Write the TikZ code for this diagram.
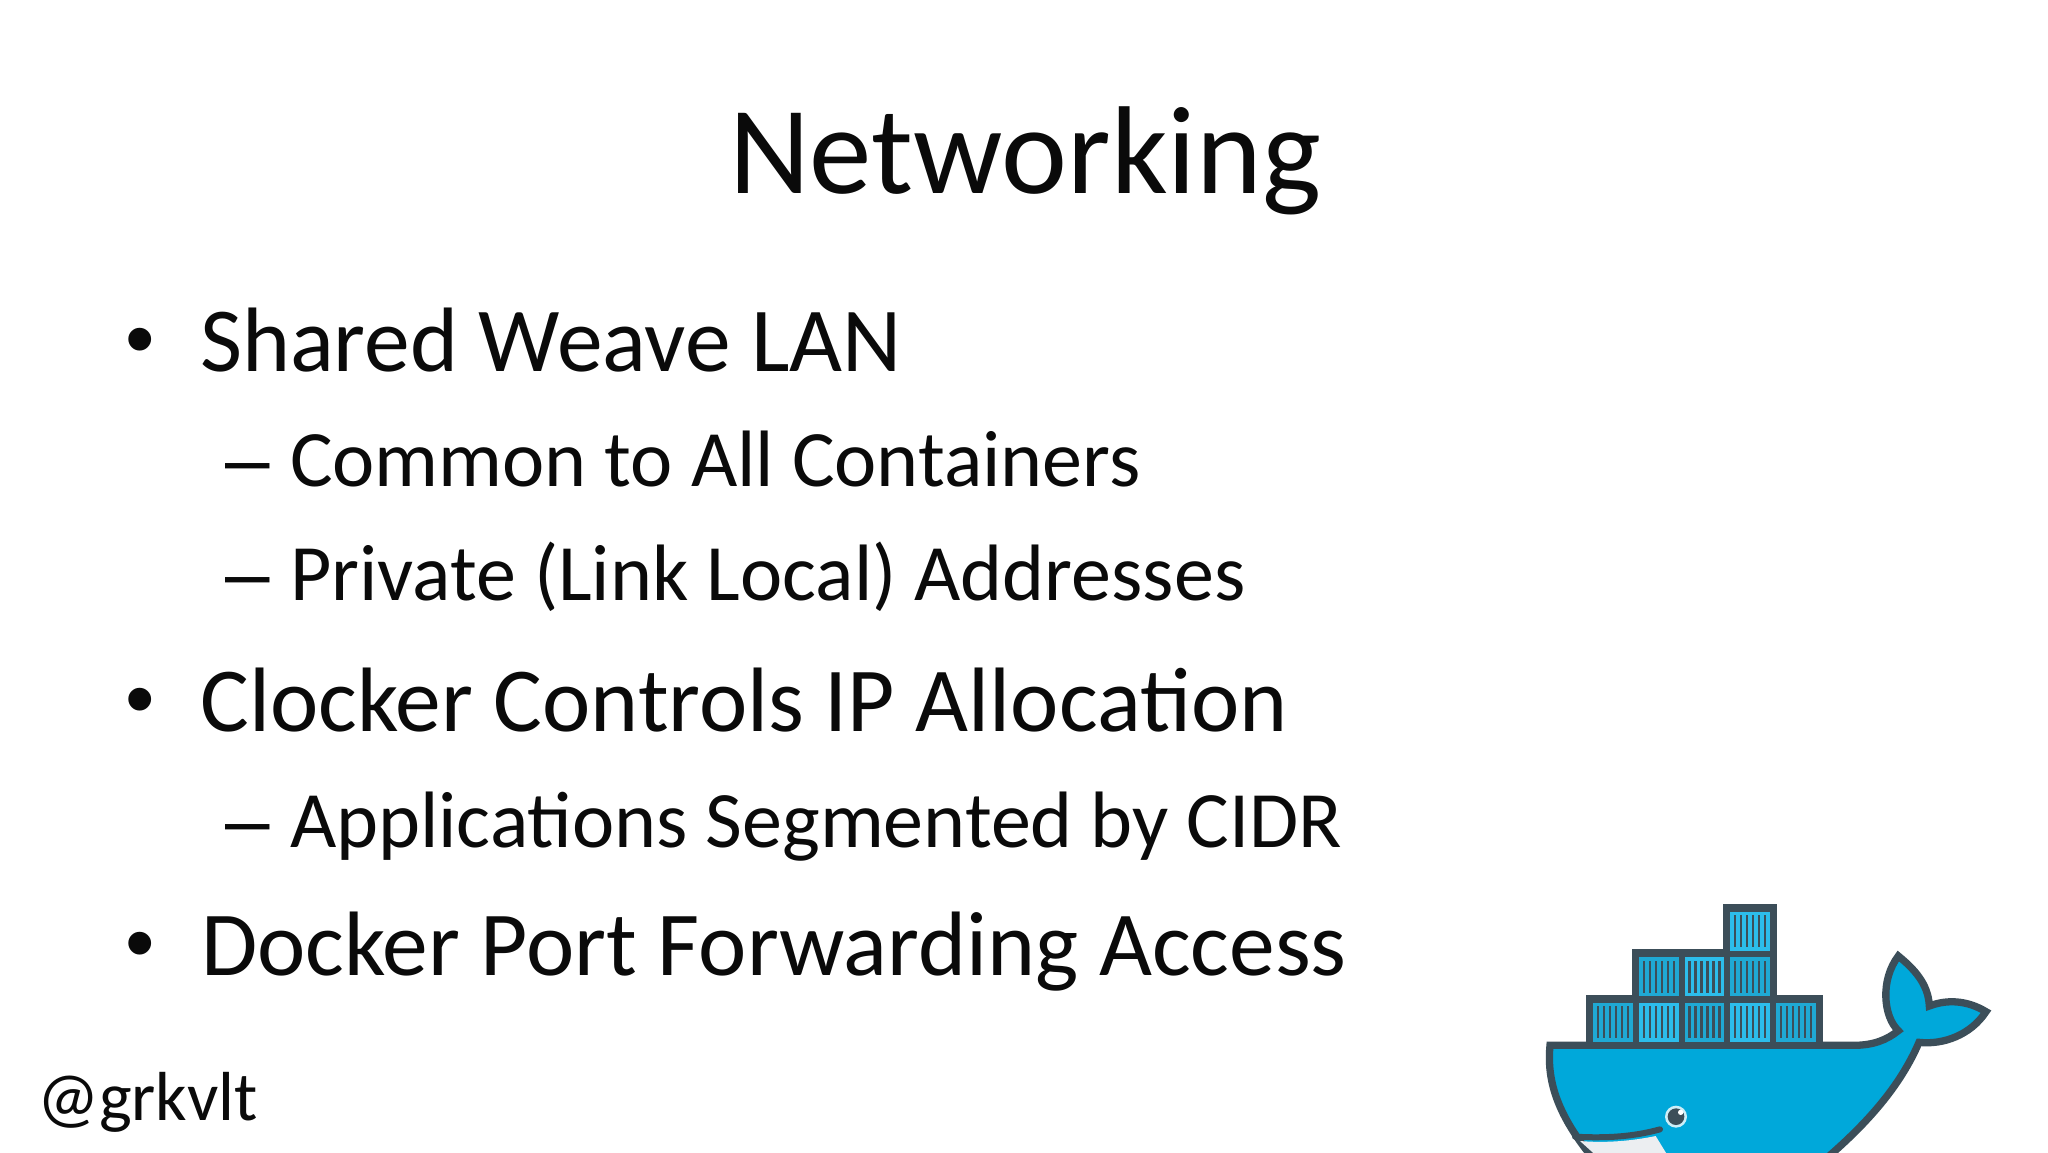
\documentclass[tikz,border=0pt]{standalone}
\usepackage{fontspec}
\setmainfont{Carlito}
\newfontfamily\bulletfont{Liberation Sans}
\definecolor{inktext}{HTML}{0A0A0A}
\definecolor{whaleblue}{HTML}{00A8DA}
\definecolor{whaleline}{HTML}{3C4E59}
\definecolor{boxa}{HTML}{1FA9D4}
\definecolor{boxb}{HTML}{2CBDEB}
\definecolor{jaw}{HTML}{ECEEF1}
\tikzset{
  txt/.style={anchor=base west,inner sep=0pt,outer sep=0pt,text=inktext},
  titletxt/.style={txt,font=\fontsize{125}{125}\selectfont},
  lone/.style={txt,font=\fontsize{91.5}{92}\selectfont},
  ltwo/.style={txt,font=\fontsize{80}{80}\selectfont},
  bul/.style={txt,font=\bulletfont\fontsize{84}{84}\selectfont},
  dsh/.style={txt,font=\bulletfont\fontsize{80}{80}\selectfont},
  hull/.style={fill=whaleblue,draw=whaleline,line width=7.3pt,miter limit=10},
}
\newcommand{\crate}[3]{%
  \fill[#3] (#1,#2) rectangle ++(39.5,39);
  \foreach \k in {0,...,5}{\fill[whaleline] ({#1+4.75+6*\k-1.25},{#2+3.3}) rectangle ++(2.5,32.4);}%
}
\begin{document}
\begin{tikzpicture}[x=1pt,y=-1pt]
\useasboundingbox (0,0) rectangle (2048,1152);
\fill[white] (0,0) rectangle (2048,1152);
\node[titletxt] (title) at (729,193.5) {Networking};
\node[bul] (b1) at (125,367) {•};
\node[lone] (t1) at (200,371) {Shared Weave LAN};
\node[dsh] (d1) at (225,486.5) {–};
\node[ltwo] (t2) at (290,486.5) {Common to All Containers};
\node[dsh] (d2) at (225,600.5) {–};
\node[ltwo] (t3) at (290,600.5) {Private (Link Local) Addresses};
\node[bul] (b2) at (125,727) {•};
\node[lone] (t4) at (200.5,731.5) {Clocker Controls IP Allocation};
\node[dsh] (d3) at (225,847.5) {–};
\node[ltwo] (t5) at (290,847.5) {Applications Segmented by CIDR};
\node[bul] (b3) at (125,971) {•};
\node[lone] (t6) at (201,975.5) {Docker Port Forwarding Access};
\node[txt,font=\fontsize{69.4}{70}\selectfont] (h) at (37,1120) {@grkvlt};
\begin{scope}
\clip (1500,880) rectangle (2048,1152);
\begin{scope}[shift={(1520,880)},x=0.33333pt,y=-0.33333pt]
  \draw[hull] (90,496) -- (1000,496) .. controls (1060,496) and (1100,480) .. (1135,452)
    .. controls (1090,410) and (1080,300) .. (1135,228)
    .. controls (1180,265) and (1225,310) .. (1228,378)
    .. controls (1280,358) and (1340,360) .. (1398,395)
    .. controls (1352,465) and (1270,495) .. (1197,487)
    .. controls (1140,620) and (1040,730) .. (925,830)
    -- (215,830) .. controls (110,700) and (80,600) .. (90,496) -- cycle;
  \fill[jaw] (180,783) .. controls (260,790) and (340,782) .. (407,768) -- (445,830) -- (232,830) -- cycle;
  \draw[whaleline,line width=6pt,line cap=round] (165,770) .. controls (260,775) and (340,770) .. (420,748);
  \fill[whaleblue!20!white] (468,710) circle (33);
  \fill[whaleline] (468,710) circle (25);
  \fill[white] (482,697) circle (8);
\end{scope}
\end{scope}
\fill[whaleline] (1586,995) rectangle (1823,1045);
\fill[whaleline] (1631.7,949) rectangle (1777,1000);
\fill[whaleline] (1722.7,904) rectangle (1777,955);
\crate{1593.3}{1002.7}{boxa}
\crate{1639}{1002.7}{boxb}
\crate{1684.7}{1002.7}{boxa}
\crate{1730.3}{1002.7}{boxb}
\crate{1776}{1002.7}{boxa}
\crate{1639}{957.3}{boxa}
\crate{1684.7}{957.3}{boxb}
\crate{1730.3}{957.3}{boxa}
\crate{1730.3}{911.7}{boxb}
\end{tikzpicture}
\end{document}
